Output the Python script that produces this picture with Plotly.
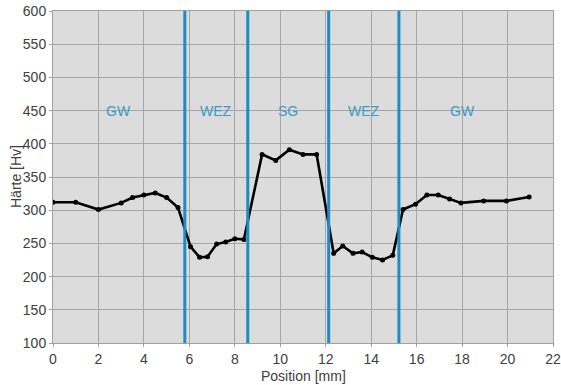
import plotly.graph_objects as go

# Hardness traverse across the weld (position in mm, Vickers hardness)
position_mm = [0, 1, 2, 3, 3.5, 4, 4.5, 5, 5.5, 6.05, 6.45, 6.8, 7.2, 7.6, 8.0, 8.4,
               9.2, 9.8, 10.4, 11.0, 11.6, 12.35, 12.75, 13.2, 13.6, 14.05, 14.5,
               14.95, 15.4, 15.95, 16.45, 16.95, 17.45, 17.95, 18.95, 19.95, 20.95]
hardness_hv = [312, 312, 301, 311, 319, 323, 326, 319, 304, 245, 229, 230, 249, 252,
               257, 256, 384, 375, 391, 384, 384, 235, 246, 235, 237, 229, 225, 232,
               301, 309, 323, 323, 317, 311, 314, 314, 320]

# Zone boundaries and zone labels
zone_bounds = [5.8, 8.57, 12.13, 15.22]
zone_names = ["GW", "WEZ", "SG", "WEZ", "GW"]
zone_label_x = [2.9, 7.19, 10.35, 13.67, 18.0]
zone_label_y = 450

x_ticks = list(range(0, 23, 2))
y_ticks = list(range(100, 601, 50))

blue = "#1b8cc4"
label_blue = "#3a9ac8"

fig = go.Figure()

fig.add_trace(go.Scatter(
    x=position_mm, y=hardness_hv, mode="lines+markers",
    line=dict(color="black", width=2.6),
    marker=dict(color="black", size=5),
    showlegend=False, hoverinfo="skip",
))

for xb in zone_bounds:
    fig.add_shape(type="line", x0=xb, x1=xb, y0=100, y1=600, xref="x", yref="y",
                  line=dict(color=blue, width=3), layer="above")

for name, xl in zip(zone_names, zone_label_x):
    fig.add_annotation(x=xl, y=zone_label_y, text=name, showarrow=False,
                       font=dict(family="Liberation Sans, Arial", size=14, color=label_blue))

axis_font = dict(family="Liberation Sans, Arial", size=14, color="#404040")

# Axis titles placed as annotations relative to the plot area
fig.add_annotation(xref="paper", yref="paper", x=0.5, y=0, yshift=-33,
                   xanchor="center", yanchor="middle",
                   text="Position [mm]", showarrow=False, font=axis_font)
fig.add_annotation(xref="paper", yref="paper", x=0, y=0.5, xshift=-37,
                   xanchor="center", yanchor="middle",
                   text="Härte [Hv]", textangle=-90, showarrow=False, font=axis_font)

fig.update_layout(
    width=561, height=385,
    margin=dict(l=53, r=8, t=11, b=42),
    paper_bgcolor="white",
    plot_bgcolor="#dcdcdc",
    font=axis_font,
)
fig.update_xaxes(
    range=[0, 22], tickvals=x_ticks, showgrid=True, gridcolor="#a6a6a6", gridwidth=1,
    zeroline=False, showline=True, linecolor="#a0a0a0", linewidth=1, mirror=True,
    ticks="outside", ticklen=3, tickcolor="#a0a0a0", automargin=False,
    tickfont=axis_font,
)
fig.update_yaxes(
    range=[100, 600], tickvals=y_ticks, showgrid=True, gridcolor="#a6a6a6", gridwidth=1,
    zeroline=False, showline=True, linecolor="#a0a0a0", linewidth=1, mirror=True,
    ticks="outside", ticklen=3, tickcolor="#a0a0a0", automargin=False,
    tickfont=axis_font,
)

fig.write_html("out.html")
